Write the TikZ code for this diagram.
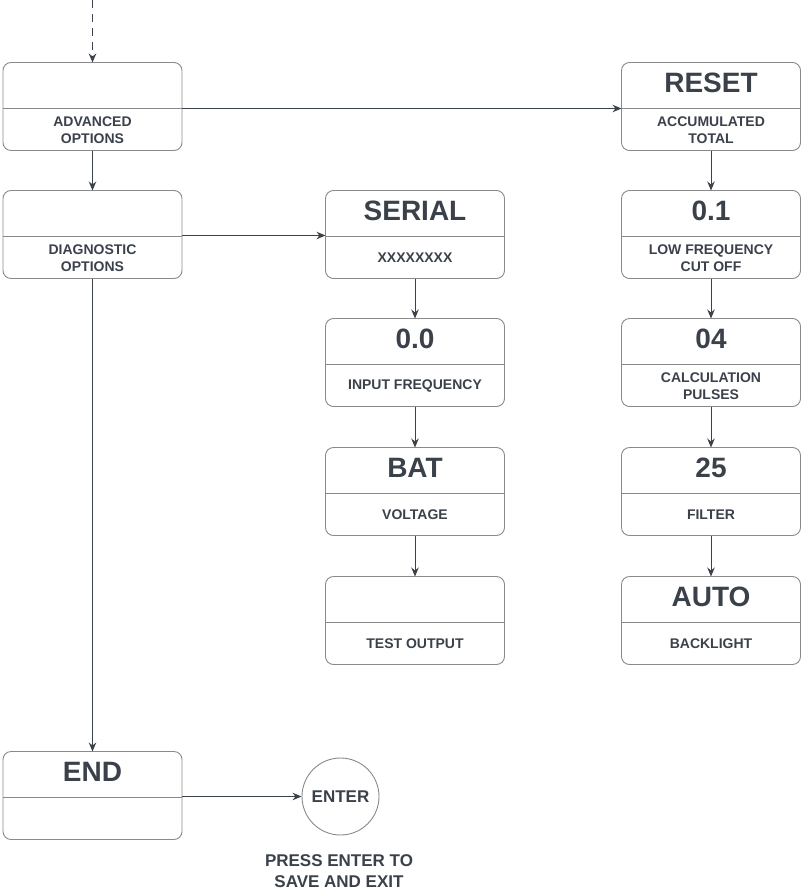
\documentclass[tikz,border=0pt]{standalone}
\usepackage{fontspec}
\setmainfont{Liberation Sans}
\usetikzlibrary{arrows.meta}
\definecolor{ink}{HTML}{3B414B}
\definecolor{edge}{HTML}{8A8A8A}
\tikzset{
  box/.style={draw=edge,line width=0.9pt,rounded corners=8pt,minimum width=179pt,minimum height=88pt,inner sep=0pt,outer sep=0pt},
  div/.style={draw=edge,line width=0.9pt},
  ttl/.style={text=ink,font=\fontsize{28}{32}\selectfont\bfseries,inner sep=0pt},
  sub/.style={text=ink,font=\fontsize{14}{16.5}\selectfont\bfseries,align=center,inner sep=0pt},
  conn/.style={draw=ink,line width=0.9pt,-{Stealth[length=9pt,width=7.5pt]}},
  dconn/.style={conn,line width=1.8pt,dash pattern=on 8pt off 6pt},
  circ/.style={draw=edge,line width=0.9pt,circle,minimum size=77pt,inner sep=0pt,text=ink,font=\fontsize{17}{20}\selectfont\bfseries},
  note/.style={text=ink,font=\fontsize{17}{20.5}\selectfont\bfseries,align=center,inner sep=0pt}
}
\newcommand\stbox[5]{%
  \node[box] (#1) at (#2,#3+44.5) {};
  \draw[div] (#2-89.5,#3+46) -- (#2+89.5,#3+46);
  \node[ttl] (#1t) at (#2,#3+20.5) {#4};
  \node[sub] (#1s) at (#2,#3+68) {#5};
}
\begin{document}
\begin{tikzpicture}[x=1pt,y=-1pt]
\useasboundingbox (0,0) rectangle (801,891);
% column 1
\stbox{adv}{92.5}{62}{}{ADVANCED\\OPTIONS}
\stbox{diag}{92.5}{190}{}{DIAGNOSTIC\\OPTIONS}
\stbox{endb}{92.5}{751}{END}{}
% column 2
\stbox{serial}{415}{190}{SERIAL}{XXXXXXXX}
\stbox{freq}{415}{318}{0.0}{INPUT FREQUENCY}
\stbox{bat}{415}{447}{BAT}{VOLTAGE}
\stbox{test}{415}{576}{}{TEST OUTPUT}
% column 3
\stbox{reset}{711}{62}{RESET}{ACCUMULATED\\TOTAL}
\stbox{low}{711}{190}{0.1}{LOW FREQUENCY\\CUT OFF}
\stbox{calc}{711}{318}{04}{CALCULATION\\PULSES}
\stbox{filt}{711}{447}{25}{FILTER}
\stbox{auto}{711}{576}{AUTO}{BACKLIGHT}
% enter
\node[circ] (enter) at (340.5,796.5) {ENTER};
\node[note] (press) at (339,871) {PRESS ENTER TO\\SAVE AND EXIT};
\coordinate (start) at (92.5,0);
% connectors
\draw[dconn] (start) -- (adv.north);
\draw[conn] (adv.south) -- (diag.north);
\draw[conn] ([yshift=-2pt]adv.east) -- ([yshift=-2pt]reset.west);
\draw[conn] ([yshift=-1pt]diag.east) -- ([yshift=-1pt]serial.west);
\draw[conn] (diag.south) -- (endb.north);
\draw[conn] (serial.south) -- (freq.north);
\draw[conn] (freq.south) -- (bat.north);
\draw[conn] (bat.south) -- (test.north);
\draw[conn] (reset.south) -- (low.north);
\draw[conn] (low.south) -- (calc.north);
\draw[conn] (calc.south) -- (filt.north);
\draw[conn] (filt.south) -- (auto.north);
\draw[conn] ([yshift=-1pt]endb.east) -- (enter.west);
\end{tikzpicture}
\end{document}
